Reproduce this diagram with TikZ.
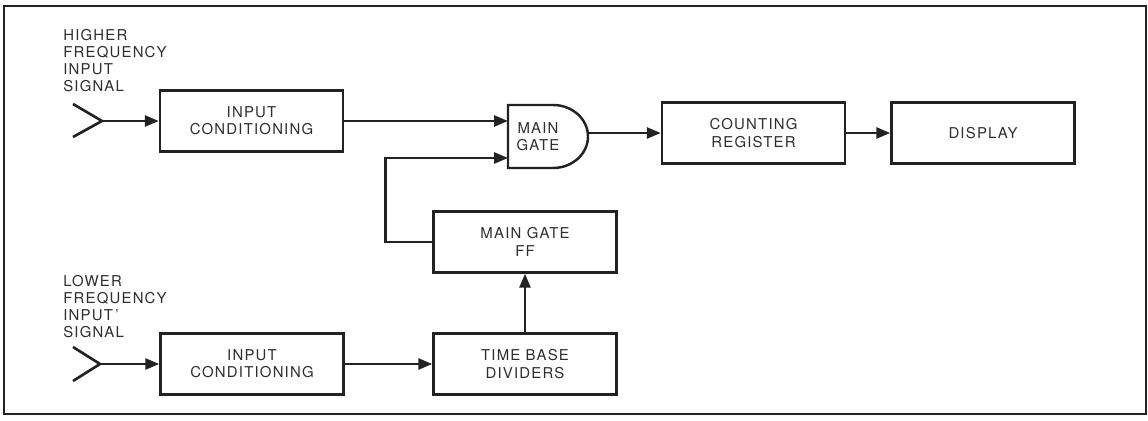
\documentclass[tikz,border=0pt]{standalone}
\usepackage{fontspec}
\setmainfont{TeX Gyre Heros}[LetterSpace=8]
\usepackage{tikz}
\usetikzlibrary{arrows.meta}
\definecolor{ink}{HTML}{222222}
\definecolor{print}{HTML}{2E2E2E}

\begin{document}
\begin{tikzpicture}[
  x=0.02cm, y=-0.02cm,
  block/.style={draw=ink, line width=1.4pt, minimum width=3.66cm, minimum height=1.22cm,
                inner sep=0pt, align=center, font=\fontsize{8.5}{9.8}\selectfont, text=print},
  label/.style={anchor=north west, inner sep=0pt, align=left,
                font=\fontsize{8.5}{9.7}\selectfont, text=print},
  wire/.style={draw=ink, line width=1.5pt, -{Triangle[length=2.8mm, width=2.2mm]}},
  aerial/.style={draw=ink, line width=1.5pt},
]

\useasboundingbox (0,0) rectangle (1148,421);
\draw[ink, line width=1.1pt] (4,6) rectangle (1146,414);

\node[label] (hitxt) at (63,29) {HIGHER\\FREQUENCY\\INPUT\\SIGNAL};
\node[label] (lotxt) at (63,275) {LOWER\\FREQUENCY\\INPUT\,'\\SIGNAL};

\node[block] (inA) at (251.5,121) {INPUT\\CONDITIONING};
\node[block] (inB) at (252,364) {INPUT\\CONDITIONING};
\node[block] (cnt) at (753.5,133) {COUNTING\\REGISTER};
\node[block] (disp) at (983,133) {DISPLAY};
\node[block] (ff) at (525,242) {MAIN GATE\\FF};
\node[block] (tbd) at (525,364) {TIME BASE\\DIVIDERS};

% and gate
\draw[ink, line width=1.4pt] (508,105) -- (553,105)
  arc[start angle=-90, end angle=90, x radius=35, y radius=31.5] -- (508,168) -- cycle;
\node[inner sep=0pt, align=center, font=\fontsize{8.5}{9.8}\selectfont, text=print]
  (gate) at (538,136.5) {MAIN\\GATE};
\coordinate (gin1) at (508,121);
\coordinate (gin2) at (508,158);
\coordinate (gout) at (588,133);

% aerials
\coordinate (antA) at (102,121);
\coordinate (antB) at (100,364);
\draw[aerial] (73,104) -- (antA) -- (73,137);
\draw[aerial] (73,347) -- (antB) -- (73,381);

\draw[wire] (antA) -- (inA.west);
\draw[wire] (antB) -- (inB.west);
\draw[wire] (inA.east) -- (gin1);
\draw[wire] (gout) -- (cnt.west);
\draw[wire] (cnt.east) -- (disp.west);
\draw[wire] (inB.east) -- (tbd.west);
\draw[wire] (tbd.north) -- (ff.south);
\draw[wire] (ff.west) -- ++(-47,0) |- (gin2);

\end{tikzpicture}
\end{document}
